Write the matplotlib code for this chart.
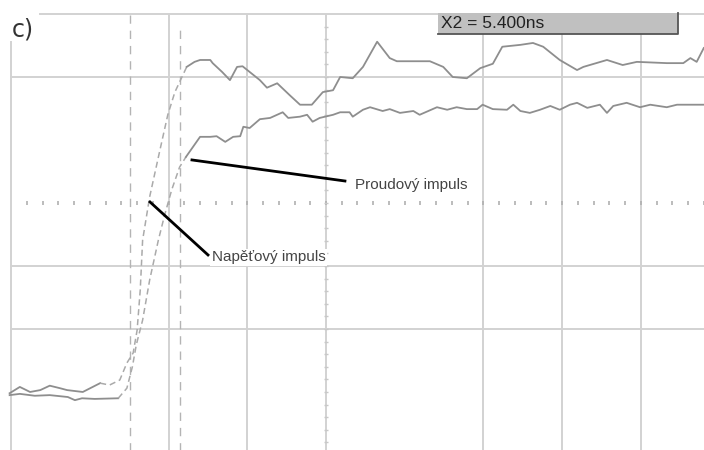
import numpy as np
import matplotlib
matplotlib.use("Agg")
import matplotlib.pyplot as plt
from matplotlib.patches import Rectangle

# Oscilloscope traces in divisions
# (x: 1 div horizontal, y: 1 div vertical, origin at screen centre)
volt_t = [-4.02, -3.89, -3.76, -3.63, -3.51, -3.38, -3.29, -3.09, -2.87, -2.75,
          -2.62, -2.53, -2.45, -2.40, -2.36, -2.33, -2.24, -2.11, -2.01, -1.92,
          -1.83, -1.77, -1.67, -1.60, -1.47, -1.44, -1.32, -1.22, -1.13, -1.06,
          -0.97, -0.84, -0.75, -0.62, -0.46, -0.33, -0.18, -0.04, 0.09, 0.18,
          0.34, 0.47, 0.65, 0.81, 0.90, 1.32, 1.49, 1.61, 1.79, 1.96,
          2.12, 2.24, 2.47, 2.63, 2.76, 2.97, 3.19, 3.27, 3.57, 3.77,
          3.95, 4.33, 4.54, 4.63, 4.71, 4.80]
volt_v = [-3.02, -2.92, -3.00, -2.97, -2.90, -2.94, -2.97, -3.00, -2.86, -2.89,
          -2.81, -2.54, -2.38, -2.02, -1.38, -0.59, 0.10, 0.84, 1.40, 1.76,
          2.00, 2.16, 2.24, 2.27, 2.27, 2.22, 2.08, 1.95, 2.16, 2.17,
          2.08, 1.95, 1.83, 1.90, 1.71, 1.56, 1.56, 1.76, 1.79, 2.00,
          1.98, 2.16, 2.56, 2.30, 2.25, 2.25, 2.16, 2.00, 1.98, 2.14,
          2.21, 2.48, 2.51, 2.54, 2.48, 2.27, 2.11, 2.16, 2.27, 2.19,
          2.24, 2.22, 2.22, 2.30, 2.24, 2.46]

curr_t = [-4.02, -3.89, -3.70, -3.51, -3.28, -3.19, -3.10, -2.94, -2.64, -2.53,
          -2.46, -2.41, -2.33, -2.24, -2.13, -2.05, -1.96, -1.86, -1.78, -1.69,
          -1.60, -1.47, -1.39, -1.28, -1.18, -1.09, -1.05, -0.97, -0.84, -0.71,
          -0.55, -0.48, -0.33, -0.24, -0.17, -0.08, 0.09, 0.18, 0.30, 0.34,
          0.47, 0.56, 0.72, 0.81, 0.94, 1.11, 1.19, 1.41, 1.54, 1.66,
          1.79, 1.92, 1.99, 2.12, 2.30, 2.38, 2.47, 2.59, 2.72, 2.85,
          2.97, 3.10, 3.19, 3.32, 3.48, 3.57, 3.65, 3.82, 3.99, 4.12,
          4.33, 4.46, 4.80]
curr_v = [-3.05, -3.03, -3.06, -3.05, -3.08, -3.13, -3.10, -3.11, -3.10, -2.94,
          -2.60, -2.25, -1.86, -1.22, -0.59, -0.19, 0.21, 0.57, 0.73, 0.89,
          1.05, 1.05, 1.06, 0.97, 1.05, 1.06, 1.21, 1.19, 1.33, 1.35,
          1.44, 1.35, 1.37, 1.40, 1.29, 1.35, 1.40, 1.44, 1.44, 1.37,
          1.48, 1.52, 1.46, 1.49, 1.43, 1.46, 1.40, 1.52, 1.48, 1.52,
          1.49, 1.49, 1.56, 1.49, 1.48, 1.56, 1.46, 1.43, 1.48, 1.54,
          1.48, 1.56, 1.59, 1.51, 1.56, 1.43, 1.54, 1.59, 1.52, 1.56,
          1.52, 1.56, 1.56]

# rising edge index ranges (drawn dashed, as on the scope screen)
volt_edge = (8, 21)
curr_edge = (8, 18)

cursor_x = [-2.49, -1.855]
grid_x = [-2, -1, 0, 2, 3, 4]
grid_y = [2, -1, -2]

label_proud = "Proudový impuls"
label_napet = "Napěťový impuls"
cursor_text = "X2 = 5.400ns"

fig = plt.figure(figsize=(7.04, 4.5), dpi=100)
ax = fig.add_axes([0, 0, 1, 1])
ax.set_xlim(-4.142, 4.803)
ax.set_ylim(-3.921, 3.222)
ax.axis('off')

gc = '#d2d2d2'
# grid
for gx in grid_x:
    ax.plot([gx, gx], [-3.95, 2.98], color=gc, lw=1.4, zorder=1)
for gy in grid_y:
    ax.plot([-4.0, 4.9], [gy, gy], color=gc, lw=1.4, zorder=1)
ax.plot([-4.0, -4.0], [-3.95, 2.556], color=gc, lw=1.4, zorder=1)   # left frame
ax.plot([-3.634, 4.9], [3.0, 3.0], color=gc, lw=1.4, zorder=1)      # top frame

# centre axis minor ticks
tx = np.arange(-3.8, 4.81, 0.2)
ax.plot(tx, np.zeros_like(tx), linestyle='none', marker='|', ms=3,
        color='#b0b0b0', mew=1.2, zorder=1)
ty = np.arange(-3.8, 3.0, 0.2)
ax.plot(np.zeros_like(ty), ty, linestyle='none', marker='_', ms=3,
        color='#c8c8c8', mew=1.0, zorder=1)

# cursors
ax.plot([cursor_x[0]] * 2, [-3.95, 2.98], color='#b4b4b4', lw=1,
        linestyle=(0, (6, 5)), zorder=2)
ax.plot([cursor_x[1]] * 2, [-3.95, 2.75], color='#b4b4b4', lw=1,
        linestyle=(0, (6, 5)), zorder=2)

# traces
tc = '#8e8e8e'
for t, v, (a, b) in [(volt_t, volt_v, volt_edge), (curr_t, curr_v, curr_edge)]:
    ax.plot(t[:a + 1], v[:a + 1], color=tc, lw=1.3, zorder=3)
    ax.plot(t[a:b + 1], v[a:b + 1], color='#aaaaaa', lw=1.1,
            linestyle=(0, (4, 2.5)), zorder=3)
    ax.plot(t[b:], v[b:], color=tc, lw=1.3, zorder=3)

# annotations
ax.plot([-1.703, 0.241], [0.683, 0.349], color='black', lw=2, zorder=4)
ax.text(0.37, 0.28, label_proud, fontsize=11, color='#444444',
        family='Liberation Sans', va='center', ha='left', zorder=4)
ax.plot([-2.236, -1.499], [0.016, -0.825], color='black', lw=2, zorder=4)
ax.text(-1.45, -0.86, label_napet, fontsize=11, color='#444444',
        family='Liberation Sans', va='center', ha='left', zorder=4,
        bbox=dict(facecolor='white', edgecolor='none', pad=1))

# cursor readout box
ax.add_patch(Rectangle((1.423, 2.683), 3.05, 0.333, facecolor='#c0c0c0',
                       edgecolor='none', zorder=5))
ax.plot([1.423, 4.473, 4.473], [2.683, 2.683, 3.016], color='#555555',
        lw=1.3, zorder=6)
ax.text(1.46, 2.85, cursor_text, fontsize=12.5, color='#222222',
        family='Liberation Sans', va='center', ha='left', zorder=7)

# panel label
fig.text(0.017, 0.935, "c)", fontsize=17, color='#333333',
         family='DejaVu Sans', va='center', ha='left')

fig.savefig('out.png', dpi=100)
